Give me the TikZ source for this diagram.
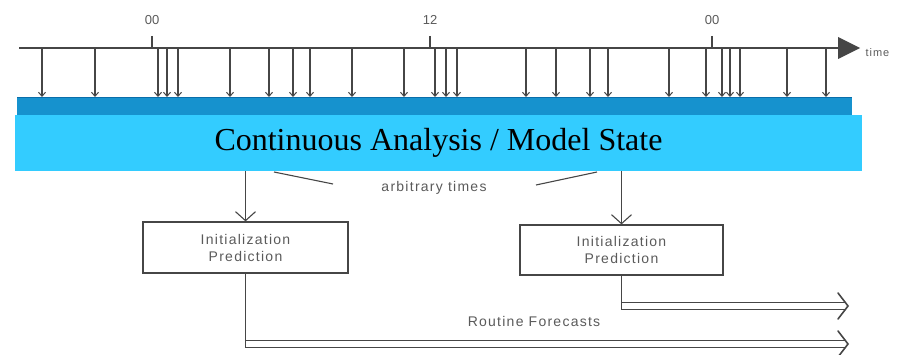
\documentclass[tikz,border=0pt]{standalone}
\usepackage{fontspec}
\setmainfont{Liberation Serif}
\newfontfamily\labelfont[LetterSpace=9]{Liberation Sans}
\newfontfamily\plainsans{Liberation Sans}
\usetikzlibrary{arrows.meta}
\definecolor{lightbar}{RGB}{51,204,255}
\definecolor{darkbar}{RGB}{22,146,206}
\definecolor{darkedge}{RGB}{10,110,170}
\definecolor{ink}{RGB}{70,70,70}
\definecolor{txt}{RGB}{90,90,90}
\tikzset{
  drop/.style={draw=ink, line width=1.1pt, -{Straight Barb[length=4pt,width=7pt,line width=1pt]}},
  droparrow/.style={draw=ink, line width=1.1pt, -{Straight Barb[length=9pt,width=20pt,line width=1.1pt]}},
  predbox/.style={draw=ink, line width=1.2pt, minimum width=205pt, minimum height=51pt, inner sep=0pt,
     align=center, font=\labelfont\fontsize{14}{17}\selectfont, text=txt},
  lbl/.style={font=\labelfont\fontsize{14}{16}\selectfont, text=txt},
  dbl/.style={draw=ink, line width=1.1pt, double=white, double distance=6.5pt},
  chev/.style={draw=ink, line width=1.6pt, line cap=round, line join=miter},
}
\begin{document}
\begin{tikzpicture}[x=1pt,y=-1pt]
\useasboundingbox (0,0) rectangle (907,355);
% timeline
\draw[ink, line width=1.6pt] (19,48) -- (840,48);
\fill[ink] (838,37) -- (860,48) -- (838,59) -- cycle;
\node[lbl, font=\labelfont\fontsize{11}{13}\selectfont, anchor=west] (time) at (862,53) {time};
\foreach \x/\t/\n in {152/00/ta, 430/12/tb, 712/00/tc}{
  \draw[ink, line width=2pt] (\x,36) -- (\x,48);
  \node[lbl, font=\plainsans\fontsize{13}{15}\selectfont] (\n) at (\x,20) {\t};
}
% dark bar
\fill[darkbar] (17,97) rectangle (852,116);
\draw[darkedge, line width=1pt] (17,97.5) -- (852,97.5);
% drop arrows
\foreach \x in {42,95,158,167,178,230,269,293,310,352,404,435,446,457,526,556,590,608,669,706,722,730,740,787,826}{
  \draw[drop] (\x,48) -- (\x,97);
}
% light box
\node[fill=lightbar, minimum width=847pt, minimum height=56pt, inner sep=0pt,
      font=\fontsize{32}{36}\selectfont] (state) at (438.5,143) {Continuous Analysis / Model State};
% prediction boxes
\node[predbox] (init1) at (245.5,247.5) {Initialization\\Prediction};
\node[predbox, minimum width=203pt, minimum height=50pt] (init2) at (621.5,250) {Initialization\\Prediction};
\draw[droparrow] (state.south -| init1) -- (init1.north);
\draw[droparrow] (state.south -| init2) -- (init2.north);
% arbitrary times
\node[lbl] (arb) at (434,188) {arbitrary times};
\draw[ink, line width=1.1pt] (274,172) -- (333,184);
\draw[ink, line width=1.1pt] (536,185) -- (597,172);
% routine forecasts
\coordinate (e1) at (848,306);
\coordinate (e2) at (848,344);
\draw[dbl] (init2.south |- e1) -- ([xshift=-3pt]e1);
\draw[chev] ([shift={(-10,-13)}]e1) -- (e1) -- ([shift={(-10,13)}]e1);
\draw[ink, line width=1.1pt] (init2.south) -- ([yshift=-4.3pt]init2.south |- e1);
\draw[dbl] (init1.south |- e2) -- ([xshift=-3pt]e2);
\draw[chev] ([shift={(-10,-13)}]e2) -- (e2) -- ([shift={(-10,13)}]e2);
\draw[ink, line width=1.1pt] (init1.south) -- ([yshift=-4.3pt]init1.south |- e2);
\node[lbl] (rf) at (534,321) {Routine Forecasts};
\end{tikzpicture}
\end{document}
